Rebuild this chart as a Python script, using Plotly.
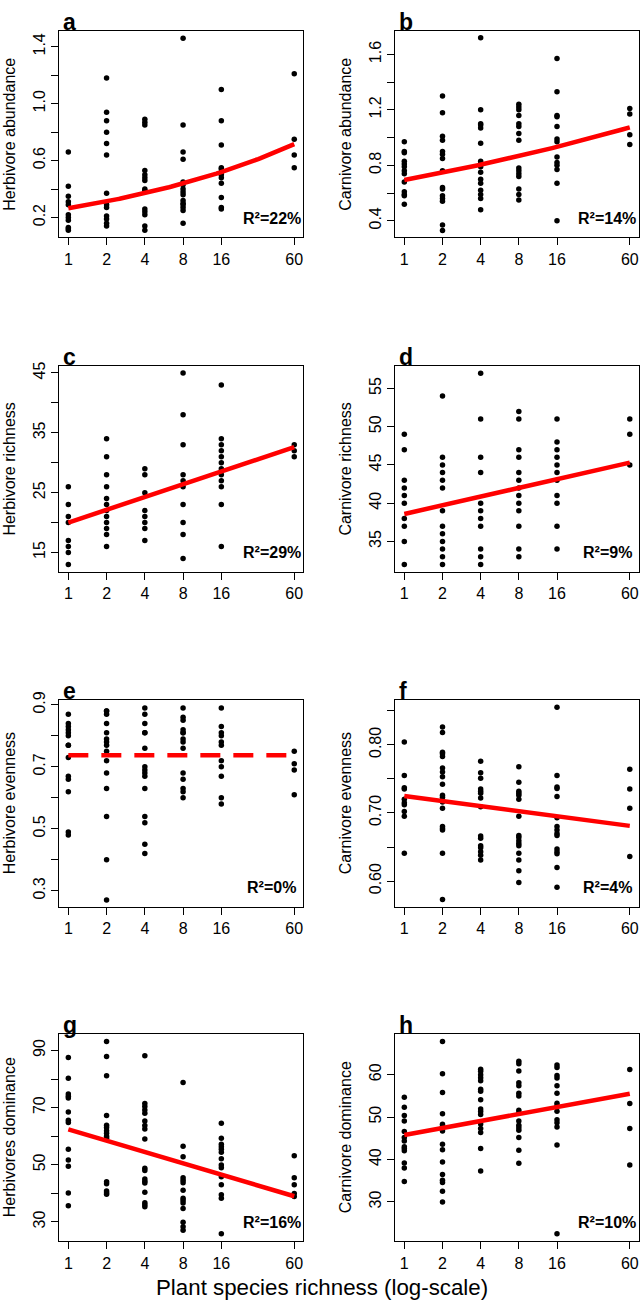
import numpy as np
import plotly.graph_objects as go

# ---------------- data ----------------
levels = [1, 2, 4, 8, 16, 60]
x_ticktext = ["1", "2", "4", "8", "16", "60"]

herb_abund = [
    [0.66, 0.42, 0.35, 0.31, 0.29, 0.22, 0.20, 0.18, 0.13, 0.12, 0.11],
    [1.18, 0.94, 0.88, 0.80, 0.72, 0.64, 0.37, 0.29, 0.27, 0.21, 0.19, 0.16, 0.14],
    [0.89, 0.87, 0.85, 0.53, 0.50, 0.48, 0.46, 0.40, 0.39, 0.26, 0.24, 0.22, 0.14, 0.11],
    [1.46, 0.85, 0.66, 0.61, 0.45, 0.43, 0.40, 0.38, 0.36, 0.32, 0.30, 0.29, 0.27, 0.25, 0.16],
    [1.10, 0.88, 0.71, 0.55, 0.54, 0.52, 0.50, 0.48, 0.44, 0.34, 0.27, 0.26],
    [1.21, 0.75, 0.64, 0.55],
]
carn_abund = [
    [0.97, 0.90, 0.89, 0.83, 0.81, 0.79, 0.76, 0.74, 0.68, 0.61, 0.59, 0.58, 0.52],
    [1.30, 1.18, 1.01, 0.98, 0.90, 0.88, 0.85, 0.76, 0.64, 0.63, 0.58, 0.56, 0.54, 0.37, 0.33],
    [1.72, 1.20, 1.10, 1.09, 1.07, 0.96, 0.83, 0.81, 0.79, 0.75, 0.70, 0.67, 0.62, 0.59, 0.56, 0.48],
    [1.24, 1.22, 1.20, 1.16, 1.10, 1.08, 1.03, 0.98, 0.78, 0.76, 0.74, 0.72, 0.63, 0.59, 0.55],
    [1.57, 1.33, 1.16, 1.15, 1.08, 0.99, 0.97, 0.86, 0.82, 0.80, 0.77, 0.67, 0.40],
    [1.21, 1.17, 1.02, 0.95],
]
herb_rich = [
    [26, 23, 21, 20, 17, 16, 15, 13],
    [34, 31, 28, 26, 24, 23, 22, 21, 20, 19, 18, 16],
    [29, 28, 25, 22, 21, 20, 19, 17],
    [45, 38, 33, 28, 27, 26, 23, 20, 18, 14],
    [43, 34, 33, 32, 31, 30, 29, 28, 27, 26, 23, 16],
    [33, 32, 31],
]
carn_rich = [
    [49, 47, 43, 42, 41, 40, 38, 37, 35, 32],
    [54, 46, 45, 44, 43, 42, 39, 37, 36, 35, 34, 33, 32],
    [57, 51, 46, 44, 40, 39, 38, 37, 34, 33, 32],
    [52, 51, 47, 46, 44, 43, 42, 41, 40, 39, 37, 34, 33],
    [51, 48, 47, 46, 45, 44, 43, 41, 40, 37, 34],
    [51, 49, 45],
]
herb_even = [
    [0.87, 0.84, 0.83, 0.82, 0.81, 0.80, 0.77, 0.77, 0.73, 0.67, 0.66, 0.62, 0.49, 0.48],
    [0.88, 0.88, 0.87, 0.84, 0.81, 0.79, 0.78, 0.77, 0.75, 0.72, 0.68, 0.63, 0.54, 0.40, 0.27],
    [0.89, 0.87, 0.84, 0.81, 0.81, 0.76, 0.70, 0.69, 0.68, 0.67, 0.63, 0.54, 0.52, 0.45, 0.42],
    [0.89, 0.86, 0.85, 0.82, 0.81, 0.81, 0.79, 0.78, 0.76, 0.68, 0.66, 0.63, 0.62, 0.60],
    [0.89, 0.83, 0.81, 0.80, 0.78, 0.77, 0.72, 0.70, 0.67, 0.60, 0.58],
    [0.75, 0.71, 0.69, 0.61],
]
carn_even = [
    [0.804, 0.755, 0.737, 0.735, 0.720, 0.715, 0.712, 0.702, 0.695, 0.641],
    [0.826, 0.818, 0.789, 0.787, 0.783, 0.766, 0.760, 0.753, 0.742, 0.726, 0.723,
     0.716, 0.707, 0.680, 0.677, 0.675, 0.641, 0.573],
    [0.776, 0.759, 0.751, 0.735, 0.732, 0.729, 0.722, 0.709, 0.666, 0.663, 0.652,
     0.649, 0.643, 0.638, 0.631],
    [0.768, 0.745, 0.732, 0.729, 0.726, 0.720, 0.695, 0.667, 0.664, 0.659, 0.655,
     0.652, 0.641, 0.631, 0.615, 0.598],
    [0.855, 0.755, 0.738, 0.736, 0.724, 0.693, 0.680, 0.675, 0.670, 0.667, 0.647,
     0.643, 0.640, 0.620, 0.591],
    [0.764, 0.735, 0.707, 0.636],
]
herb_dom = [
    [87.5, 80.3, 74.8, 74.0, 73.4, 68.5, 65.6, 64.8, 55.4, 51.7, 49.5, 40.1, 35.7],
    [93.1, 87.9, 81.1, 67.2, 63.8, 63.0, 61.9, 61.0, 60.0, 59.3, 44.1, 43.4, 40.8, 40.2, 39.7],
    [88.1, 71.4, 70.4, 69.2, 68.0, 65.3, 63.7, 62.5, 59.0, 48.8, 48.0, 45.0, 44.2,
     43.6, 40.4, 36.7, 36.0, 35.3],
    [78.8, 56.5, 52.8, 45.5, 44.6, 43.7, 41.1, 38.3, 37.5, 36.6, 34.7, 29.9, 28.3, 27.1],
    [64.5, 59.3, 57.2, 56.3, 55.4, 54.4, 52.1, 49.9, 49.0, 45.8, 43.0, 39.5, 38.3, 25.9],
    [53.2, 45.5, 43.0, 40.0, 38.9],
]
carn_dom = [
    [54.7, 52.3, 50.4, 49.1, 46.6, 45.2, 44.4, 43.0, 42.6, 42.1, 39.2, 38.0, 34.8],
    [67.8, 60.2, 55.8, 50.8, 48.3, 47.8, 47.3, 46.7, 43.6, 42.3, 39.4, 36.5, 35.1,
     34.6, 32.5, 30.0],
    [61.3, 60.8, 60.0, 59.3, 58.6, 56.6, 56.1, 54.1, 51.9, 51.3, 50.6, 48.4, 47.3,
     46.4, 42.6, 37.3],
    [63.2, 62.6, 60.9, 58.1, 57.4, 55.6, 55.0, 51.6, 51.0, 49.1, 48.1, 47.5, 46.9,
     45.2, 42.2, 39.1],
    [62.3, 61.7, 59.8, 59.2, 57.4, 55.6, 53.3, 52.6, 51.4, 49.4, 48.7, 47.7, 43.4, 22.5],
    [61.2, 53.2, 47.3, 38.7],
]

# fitted model value at richness 1 and at 60; model: "exp" (log-link) or "lin"
fit_a = (0.265, 0.716, "exp")
fit_b = (0.694, 1.074, "exp")
fit_c = (20.0, 32.6, "lin")
fit_d = (38.6, 45.3, "lin")
fit_e = (0.737, 0.737, "lin")
fit_f = (0.725, 0.681, "lin")
fit_g = (62.4, 39.0, "lin")
fit_h = (45.8, 55.5, "lin")

r2_labels = ["R²=22%", "R²=14%", "R²=29%", "R²=9%", "R²=0%", "R²=4%", "R²=16%", "R²=10%"]
panel_letters = ["a", "b", "c", "d", "e", "f", "g", "h"]
y_titles = ["Herbivore abundance", "Carnivore abundance", "Herbivore richness",
            "Carnivore richness", "Herbivore evenness", "Carnivore evenness",
            "Herbivores dominance", "Carnivore dominance"]
x_title = "Plant species richness (log-scale)"

y_tickvals = [
    [0.2, 0.4, 0.6, 0.8, 1.0, 1.2, 1.4],
    [0.4, 0.6, 0.8, 1.0, 1.2, 1.4, 1.6],
    [15, 20, 25, 30, 35, 40, 45],
    [35, 40, 45, 50, 55],
    [0.3, 0.4, 0.5, 0.6, 0.7, 0.8, 0.9],
    [0.60, 0.65, 0.70, 0.75, 0.80, 0.85],
    [30, 40, 50, 60, 70, 80, 90],
    [30, 40, 50, 60],
]
y_ticktext = [
    ["0.2", "", "0.6", "", "1.0", "", "1.4"],
    ["0.4", "", "0.8", "", "1.2", "", "1.6"],
    ["15", "", "25", "", "35", "", "45"],
    ["35", "40", "45", "50", "55"],
    ["0.3", "", "0.5", "", "0.7", "", "0.9"],
    ["0.60", "", "0.70", "", "0.80", ""],
    ["30", "", "50", "", "70", "", "90"],
    ["30", "40", "50", "60"],
]
y_ranges = [
    [0.06, 1.514], [0.28, 1.772], [11.72, 46.25], [31.0, 58.0],
    [0.248, 0.916], [0.562, 0.866], [23.2, 95.9], [20.7, 69.7],
]

panels = [herb_abund, carn_abund, herb_rich, carn_rich, herb_even, carn_even, herb_dom, carn_dom]
fits = [fit_a, fit_b, fit_c, fit_d, fit_e, fit_f, fit_g, fit_h]

# ---------------- layout geometry ----------------
W, H = 644, 1300
col_x = [(59.3, 303.3), (395.3, 638.8)]
row_y = [(21.7, 230.0), (359.0, 567.0), (695.7, 904.2), (1031.7, 1241.0)]
x_range = [np.log10(1) - 0.04 * np.log10(60), np.log10(60) * 1.04]

FONT = "Liberation Sans, Arial, Helvetica, sans-serif"

fig = go.Figure()
annotations = []
layout_axes = {}

for i, data in enumerate(panels):
    r, c = divmod(i, 2)
    ax = "" if i == 0 else str(i + 1)
    xa, ya = "x" + ax, "y" + ax
    x0, x1 = col_x[c]
    y0, y1 = row_y[r]
    xd = [x0 / W, x1 / W]
    yd = [1 - y1 / H, 1 - y0 / H]

    xs, ys = [], []
    for lev, vals in zip(levels, data):
        xs += [lev] * len(vals)
        ys += vals
    fig.add_trace(go.Scatter(x=xs, y=ys, mode="markers", xaxis=xa, yaxis=ya,
                             marker=dict(color="black", size=5.5, line=dict(width=0)),
                             hoverinfo="skip"))

    v1, v60, kind = fits[i]
    xf = np.geomspace(1, 60, 120)
    t = np.log(xf) / np.log(60)
    if kind == "exp":
        yf = np.exp(np.log(v1) + (np.log(v60) - np.log(v1)) * t)
    else:
        yf = v1 + (v60 - v1) * t
    fig.add_trace(go.Scatter(x=xf, y=yf, mode="lines", xaxis=xa, yaxis=ya,
                             line=dict(color="#ff0000", width=4.5,
                                       dash="20px,13px" if i == 4 else "solid"),
                             hoverinfo="skip"))

    layout_axes["xaxis" + ax] = dict(
        domain=xd, type="log", range=x_range, anchor=ya,
        tickvals=levels, ticktext=x_ticktext, ticks="outside", ticklen=7,
        tickwidth=1, tickcolor="black", showline=True, mirror=True,
        linecolor="black", linewidth=1, showgrid=False, zeroline=False,
        tickfont=dict(family=FONT, size=16, color="black"))
    layout_axes["yaxis" + ax] = dict(
        domain=yd, range=y_ranges[i], anchor=xa,
        tickvals=y_tickvals[i], ticktext=y_ticktext[i], ticks="outside", ticklen=7,
        tickwidth=1, tickcolor="black", tickangle=-90, showline=True, mirror=True,
        linecolor="black", linewidth=1, showgrid=False, zeroline=False,
        tickfont=dict(family=FONT, size=16, color="black"))

    # panel letter
    annotations.append(dict(text="<b>%s</b>" % panel_letters[i], xref="paper", yref="paper",
                            x=(x0 + 2) / W, y=1 - y0 / H, xanchor="left", yanchor="bottom",
                            yshift=-6, showarrow=False,
                            font=dict(family=FONT, size=23, color="black")))
    # R2 label centred at richness 40, ~19.5px above bottom of box
    annotations.append(dict(text="<b>%s</b>" % r2_labels[i], xref=xa, yref="paper",
                            x=np.log10(40), y=1 - (y1 - 19.5) / H, xanchor="center",
                            yanchor="middle", showarrow=False,
                            font=dict(family=FONT, size=16, color="black")))
    # y title
    annotations.append(dict(text=y_titles[i], xref="paper", yref="paper",
                            x=(x0 - 49.5) / W, y=1 - (y0 + y1) / 2 / H, xanchor="center",
                            yanchor="middle", textangle=-90, showarrow=False,
                            font=dict(family=FONT, size=16, color="black")))

annotations.append(dict(text=x_title, xref="paper", yref="paper", x=322 / W,
                        y=1 - 1287 / H, xanchor="center", yanchor="middle",
                        showarrow=False, font=dict(family=FONT, size=22.3, color="black")))

fig.update_layout(width=W, height=H, margin=dict(l=0, r=0, t=0, b=0),
                  paper_bgcolor="white", plot_bgcolor="white", showlegend=False,
                  annotations=annotations, **layout_axes)

fig.write_html("out.html", config={"displayModeBar": False},
               post_script="document.body.style.margin='0';document.body.style.overflow='hidden';")
